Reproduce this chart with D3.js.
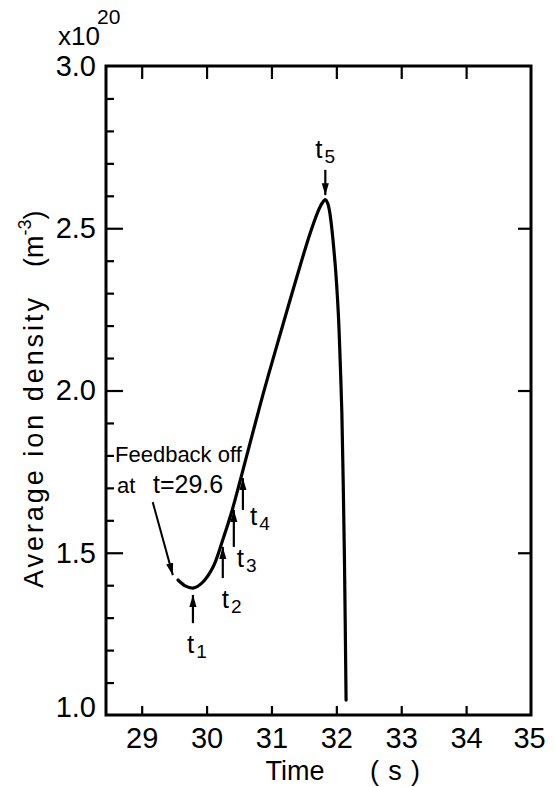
<!DOCTYPE html>
<html>
<head>
<meta charset="utf-8">
<script src="https://cdn.jsdelivr.net/npm/d3@7"></script>
<style>
  html, body { margin: 0; padding: 0; background: #fff; }
  svg { display: block; }
  text { font-family: "Liberation Sans", Arial, sans-serif; fill: #000; }
</style>
</head>
<body>
<svg id="chart" width="554" height="787"></svg>
<script>
// Average ion density after the density feedback is switched off (×10^20 m^-3)
const timeS = [29.56, 29.67, 29.79, 29.93, 30.10, 30.25, 30.39, 30.52, 30.67, 30.87,
               31.09, 31.29, 31.44, 31.59, 31.72, 31.78, 31.83, 31.87, 31.90, 31.98,
               32.03, 32.06, 32.085, 32.105, 32.125, 32.15];
const density = [1.416, 1.398, 1.391, 1.407, 1.456, 1.540, 1.628, 1.724, 1.838, 1.988,
                 2.143, 2.281, 2.383, 2.481, 2.553, 2.577, 2.588, 2.575, 2.547, 2.393,
                 2.239, 2.085, 1.931, 1.724, 1.478, 1.046];

// Marked instants t1..t5 (arrows point at the curve)
const markerNames = ["1", "2", "3", "4", "5"];
const markerTimes = [29.79, 30.25, 30.42, 30.56, 31.83];
const markerTail  = [1.283, 1.422, 1.518, 1.632, 2.680];
const markerHead  = [1.370, 1.518, 1.632, 1.730, 2.602];

// Feedback-off note and its arrow (data coordinates)
const noteWords = ["Feedback off", "at", "t=29.6"];
const noteArrowTime = [29.17, 29.48];
const noteArrowDens = [1.656, 1.431];

// Axis ticks
const xTicks = [29, 30, 31, 32, 33, 34, 35];
const yMajor = [1.0, 1.5, 2.0, 2.5, 3.0];
const yMinor = d3.range(11, 30).map(d => d / 10).filter(d => Math.abs(d * 2 - Math.round(d * 2)) > 1e-6);

const svg = d3.select("#chart");
const frame = { left: 106, right: 531, top: 66, bottom: 715 };

const x = d3.scaleLinear().domain([28.45, 35]).range([frame.left, frame.right]);
const y = d3.scaleLinear().domain([1, 3]).range([frame.bottom, frame.top]);

// --- axes ---
svg.append("g").attr("transform", `translate(0,${frame.bottom})`)
  .call(d3.axisBottom(x).tickValues(xTicks.filter(d => d < 35)).tickSize(-9).tickPadding(12)
        .tickFormat(d3.format("d")));
svg.append("g").attr("transform", `translate(0,${frame.bottom})`)
  .call(d3.axisBottom(x).tickValues([35]).tickSize(0).tickPadding(12).tickFormat(d3.format("d")))
  .call(g => g.selectAll("text").attr("dx", "-2"));
svg.append("g").attr("transform", `translate(0,${frame.top})`)
  .call(d3.axisTop(x).tickValues(xTicks.filter(d => d < 35)).tickSize(-13).tickFormat(""));

svg.append("g").attr("transform", `translate(${frame.left},0)`)
  .call(d3.axisLeft(y).tickValues(yMinor).tickSize(-8).tickFormat(""));
svg.append("g").attr("transform", `translate(${frame.left},0)`)
  .call(d3.axisLeft(y).tickValues(yMajor.filter(d => d > 1 && d < 3)).tickSize(-17).tickPadding(10)
        .tickFormat(d3.format(".1f")));
svg.append("g").attr("transform", `translate(${frame.left},0)`)
  .call(d3.axisLeft(y).tickValues([1.0, 3.0]).tickSize(0).tickPadding(10).tickFormat(d3.format(".1f")))
  .call(g => g.selectAll("text").attr("dy", (d) => d === 1 ? "0.05em" : "0.32em"));
svg.append("g").attr("transform", `translate(${frame.right},0)`)
  .call(d3.axisRight(y).tickValues(yMajor.filter(d => d > 1 && d < 3)).tickSize(-13).tickFormat(""));

svg.selectAll(".domain").remove();
svg.selectAll(".tick line").attr("stroke", "#000").attr("stroke-width", 2.2);
svg.selectAll(".tick text").attr("font-size", 29).attr("font-family", "Liberation Sans, Arial, sans-serif").attr("fill", "#000");

svg.append("rect")
  .attr("x", frame.left).attr("y", frame.top)
  .attr("width", frame.right - frame.left).attr("height", frame.bottom - frame.top)
  .attr("fill", "none").attr("stroke", "#000").attr("stroke-width", 3);

// exponent of the y scale
svg.append("text").attr("x", 58).attr("y", 45).attr("font-size", 26).text("x10");
svg.append("text").attr("x", 97).attr("y", 24).attr("font-size", 21).text("20");

// axis titles
svg.append("text").attr("x", 295).attr("y", 780).attr("font-size", 27)
  .attr("text-anchor", "middle").text("Time");
svg.append("text").attr("x", 395).attr("y", 780).attr("font-size", 27)
  .attr("text-anchor", "middle").attr("textLength", 50).attr("lengthAdjust", "spacing").text("(s)");

svg.append("text").attr("transform", "translate(43,588) rotate(-90)")
  .attr("font-size", 27).attr("textLength", 290).attr("lengthAdjust", "spacing")
  .text("Average ion density");
const unit = svg.append("text").attr("transform", "translate(43,267) rotate(-90)").attr("font-size", 27);
unit.append("tspan").text("(m");
unit.append("tspan").attr("font-size", 18).attr("dy", -12).text("-3");
unit.append("tspan").attr("dy", 12).text(")");

// arrowhead marker
const defs = svg.append("defs");
defs.append("marker").attr("id", "head")
  .attr("viewBox", "0 -4 12 8").attr("refX", 12).attr("refY", 0)
  .attr("markerWidth", 12).attr("markerHeight", 8).attr("markerUnits", "userSpaceOnUse")
  .attr("orient", "auto")
  .append("path").attr("d", "M0,-3.6L12,0L0,3.6Z").attr("fill", "#000");

// density trace
const line = d3.line().x((d, i) => x(timeS[i])).y(d => y(d)).curve(d3.curveCatmullRom.alpha(0.5));
svg.append("path").datum(density)
  .attr("d", line).attr("fill", "none").attr("stroke", "#000")
  .attr("stroke-width", 3.2).attr("stroke-linejoin", "round").attr("stroke-linecap", "round");

// t1..t5 arrows and labels
const labelOffset = [[-6, 30], [-1, 30], [3, 20], [7, 15], [-10, -12]];
markerNames.forEach((name, i) => {
  const px = x(markerTimes[i]);
  svg.append("line")
    .attr("x1", px).attr("y1", y(markerTail[i]))
    .attr("x2", px).attr("y2", y(markerHead[i]))
    .attr("stroke", "#000").attr("stroke-width", 2.2).attr("marker-end", "url(#head)");
  const t = svg.append("text")
    .attr("x", px + labelOffset[i][0]).attr("y", y(markerTail[i]) + labelOffset[i][1])
    .attr("font-size", 26);
  t.append("tspan").text("t");
  t.append("tspan").attr("font-size", 19).attr("dx", 2).attr("dy", 5).text(name);
});

// feedback-off note
svg.append("text").attr("x", 115).attr("y", 462).attr("font-size", 22).text(noteWords[0]);
svg.append("text").attr("x", 117).attr("y", 493).attr("font-size", 22).text(noteWords[1]);
svg.append("text").attr("x", 153).attr("y", 493).attr("font-size", 25).text(noteWords[2]);
svg.append("line")
  .attr("x1", x(noteArrowTime[0])).attr("y1", y(noteArrowDens[0]))
  .attr("x2", x(noteArrowTime[1])).attr("y2", y(noteArrowDens[1]))
  .attr("stroke", "#000").attr("stroke-width", 2).attr("marker-end", "url(#head)");
</script>
</body>
</html>
